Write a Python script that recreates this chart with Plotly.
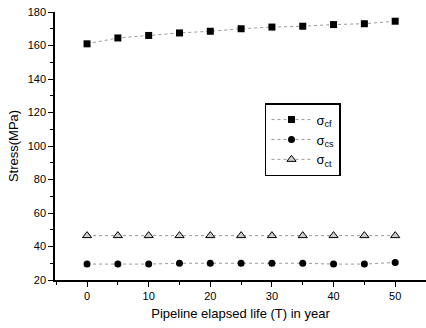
import plotly.graph_objects as go

years = [0, 5, 10, 15, 20, 25, 30, 35, 40, 45, 50]
sigma_cf = [161, 164.5, 166, 167.5, 168.5, 170, 171, 171.5, 172.5, 173, 174.5]
sigma_cs = [29.5, 29.5, 29.5, 30, 30, 30, 30, 30, 29.5, 29.5, 30.5]
sigma_ct = [46.5, 46.5, 46.5, 46.5, 46.5, 46.5, 46.5, 46.5, 46.5, 46.5, 46.5]
x_ticks = [0, 10, 20, 30, 40, 50]
y_ticks = [20, 40, 60, 80, 100, 120, 140, 160, 180]

line_style = dict(color="#999999", width=1, dash="dot")
fig = go.Figure()
fig.add_trace(go.Scatter(x=years, y=sigma_cf, mode="lines+markers", name="σ<sub>cf</sub>",
                         line=line_style, marker=dict(symbol="square", size=7, color="black")))
fig.add_trace(go.Scatter(x=years, y=sigma_cs, mode="lines+markers", name="σ<sub>cs</sub>",
                         line=line_style, marker=dict(symbol="circle", size=7, color="black")))
fig.add_trace(go.Scatter(x=years, y=sigma_ct, mode="lines+markers", name="σ<sub>ct</sub>",
                         line=line_style, marker=dict(symbol="triangle-up", size=8, color="#cccccc",
                                                       line=dict(color="black", width=1))))

axis_common = dict(showline=True, linecolor="black", linewidth=1.5, ticks="outside",
                   ticklen=5, tickcolor="black", showgrid=False, zeroline=False, automargin=False,
                   tickfont=dict(family="Liberation Sans, Arial", size=11, color="black"))

fig.update_layout(
    width=426, height=328,
    margin=dict(l=55, r=0, t=12, b=48),
    paper_bgcolor="white", plot_bgcolor="white",
    font=dict(family="Liberation Sans, Arial", size=11, color="black"),
    xaxis=dict(range=[-5.2, 55], tickvals=x_ticks,
               title=dict(text="Pipeline elapsed life (T) in year", font=dict(size=13), standoff=8),
               minor=dict(ticks="outside", ticklen=3, tickcolor="black", dtick=5, tick0=0),
               **axis_common),
    yaxis=dict(range=[20, 180], tickvals=y_ticks,
               title=dict(text="Stress(MPa)", font=dict(size=13), standoff=6),
               minor=dict(ticks="outside", ticklen=3, tickcolor="black", dtick=10, tick0=0),
               **axis_common),
    legend=dict(x=0.566, y=0.66, xanchor="left", yanchor="top",
                bordercolor="black", borderwidth=1.5, bgcolor="white",
                font=dict(size=13), itemwidth=40),
    showlegend=True,
)

fig.write_html("out.html", config={"displayModeBar": False},
               post_script="document.body.style.margin='0';")
